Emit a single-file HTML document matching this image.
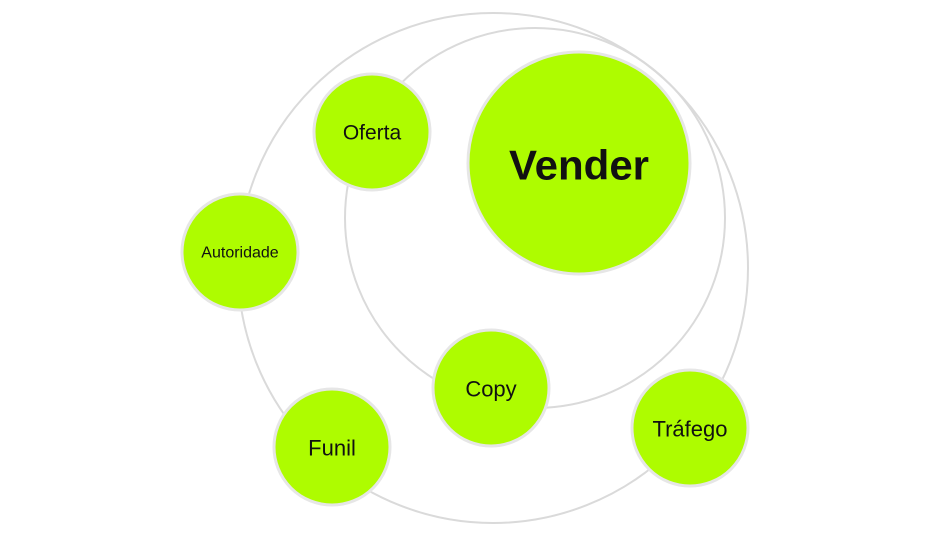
<!DOCTYPE html>
<html><head><meta charset="utf-8"><style>
html,body{margin:0;padding:0;background:#fff;width:952px;height:536px;overflow:hidden}
svg text{font-family:"Liberation Sans",sans-serif;fill:#111;text-anchor:middle;dominant-baseline:central}
</style></head><body>
<svg width="952" height="536" viewBox="0 0 952 536">
<g fill="none" stroke="#dadada" stroke-width="2">
<circle cx="493" cy="268" r="255"/>
<circle cx="535" cy="218" r="190"/>
</g>
<g fill="#aefc00" stroke="#e6e6e6" stroke-width="3">
<circle cx="579" cy="163" r="111"/>
<circle cx="372" cy="132" r="58"/>
<circle cx="240" cy="252" r="58"/>
<circle cx="332" cy="447" r="58"/>
<circle cx="491" cy="388" r="58"/>
<circle cx="690" cy="428" r="58"/>
</g>
<text x="579" y="165" font-size="42" font-weight="bold">Vender</text>
<text x="372" y="133" font-size="21">Oferta</text>
<text x="240" y="253" font-size="16">Autoridade</text>
<text x="332" y="448" font-size="22">Funil</text>
<text x="491" y="389" font-size="22">Copy</text>
<text x="690" y="429" font-size="22">Tráfego</text>
</svg>
</body></html>
